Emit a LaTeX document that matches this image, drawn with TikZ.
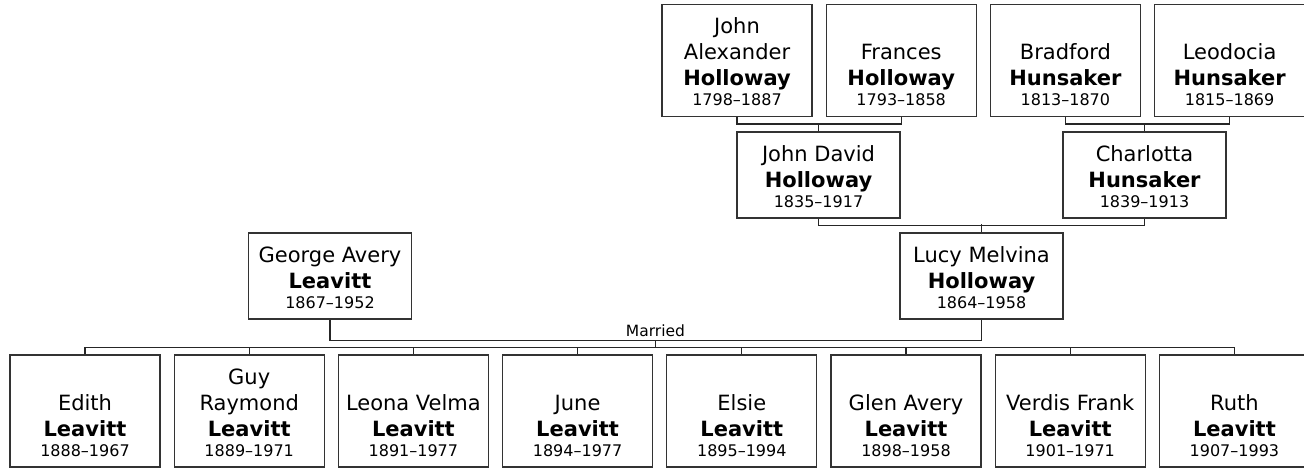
\documentclass[tikz,border=0pt]{standalone}
\usepackage{fontspec}
\setmainfont{DejaVu Sans}
\usetikzlibrary{positioning}
\newcommand{\yr}[1]{{\fontsize{16}{20}\selectfont #1}}

\begin{document}
\begin{tikzpicture}[x=1pt, y=-1pt, node distance=13pt,
		box/.style={draw=black!80, line width=1.2pt, inner sep=0pt, minimum width=150pt, minimum height=112pt},
		mid/.style={draw=black!80, line width=1.2pt, inner sep=0pt, minimum width=163pt, minimum height=86pt},
		who/.style={inner sep=0pt, align=center, font=\fontsize{21}{26}\selectfont},
		link/.style={draw=black!85, line width=1.2pt}]
	\useasboundingbox (0,0) rectangle (1304,468);
	% great-grandparents
	\node[box] (ja) at (737,60.5) {};
	\node[box, right=of ja] (fr) {};
	\node[box, right=of fr] (br) {};
	\node[box, right=of br] (le) {};
	\node[who, above=11pt of ja.south] (ja-t) {John\\Alexander\\\textbf{Holloway}\\[-6pt]\yr{1798–1887}};
	\node[who, above=11pt of fr.south] (fr-t) {Frances\\\textbf{Holloway}\\[-6pt]\yr{1793–1858}};
	\node[who, above=11pt of br.south] (br-t) {Bradford\\\textbf{Hunsaker}\\[-6pt]\yr{1813–1870}};
	\node[who, above=11pt of le.south] (le-t) {Leodocia\\\textbf{Hunsaker}\\[-6pt]\yr{1815–1869}};
	% grandparents
	\node[mid] (jd) at (818.5,175) {};
	\node[mid] (ch) at (1144.5,175) {};
	\node[who, above=11pt of jd.south] (jd-t) {John David\\\textbf{Holloway}\\[-6pt]\yr{1835–1917}};
	\node[who, above=11pt of ch.south] (ch-t) {Charlotta\\\textbf{Hunsaker}\\[-6pt]\yr{1839–1913}};
	% parents
	\node[mid] (george) at (330,276) {};
	\node[mid] (lucy) at (981.5,276) {};
	\node[who, above=11pt of george.south] (george-t) {George Avery\\\textbf{Leavitt}\\[-6pt]\yr{1867–1952}};
	\node[who, above=11pt of lucy.south] (lucy-t) {Lucy Melvina\\\textbf{Holloway}\\[-6pt]\yr{1864–1958}};
	% children
	\node[box] (edith) at (85,411) {};
	\node[box, right=of edith] (guy) {};
	\node[box, right=of guy] (leona) {};
	\node[box, right=of leona] (june) {};
	\node[box, right=of june] (elsie) {};
	\node[box, right=of elsie] (glen) {};
	\node[box, right=of glen] (verdis) {};
	\node[box, right=of verdis] (ruth) {};
	\node[who, above=11pt of edith.south] (edith-t) {Edith\\\textbf{Leavitt}\\[-6pt]\yr{1888–1967}};
	\node[who, above=11pt of guy.south] (guy-t) {Guy\\Raymond\\\textbf{Leavitt}\\[-6pt]\yr{1889–1971}};
	\node[who, above=11pt of leona.south] (leona-t) {Leona Velma\\\textbf{Leavitt}\\[-6pt]\yr{1891–1977}};
	\node[who, above=11pt of june.south] (june-t) {June\\\textbf{Leavitt}\\[-6pt]\yr{1894–1977}};
	\node[who, above=11pt of elsie.south] (elsie-t) {Elsie\\\textbf{Leavitt}\\[-6pt]\yr{1895–1994}};
	\node[who, above=11pt of glen.south] (glen-t) {Glen Avery\\\textbf{Leavitt}\\[-6pt]\yr{1898–1958}};
	\node[who, above=11pt of verdis.south] (verdis-t) {Verdis Frank\\\textbf{Leavitt}\\[-6pt]\yr{1901–1971}};
	\node[who, above=11pt of ruth.south] (ruth-t) {Ruth\\\textbf{Leavitt}\\[-6pt]\yr{1907–1993}};
	% family lines
	\draw[link] (ja.south) -- ++(0,7) -| (fr.south);
	\draw[link] (jd.north) -- ++(0,-8);
	\draw[link] (br.south) -- ++(0,7) -| (le.south);
	\draw[link] (ch.north) -- ++(0,-8);
	\draw[link] (jd.south) -- ++(0,7) -| (ch.south);
	\draw[link] (lucy.north) -- ++(0,-8);
	\draw[link] (george.south) -- ++(0,21) -| (lucy.south);
	\coordinate (wed) at (655.5,340);
	\node[inner sep=3pt, above, font=\fontsize{15.5}{18}\selectfont] (married) at (wed) {Married};
	\draw[link] (wed) -- ++(0,8);
	\draw[link] (edith.north) -- ++(0,-7) -| (ruth.north);
	\foreach \k in {guy,leona,june,elsie,glen,verdis}
		\draw[link] (\k.north) -- ++(0,-7);
\end{tikzpicture}
\end{document}
